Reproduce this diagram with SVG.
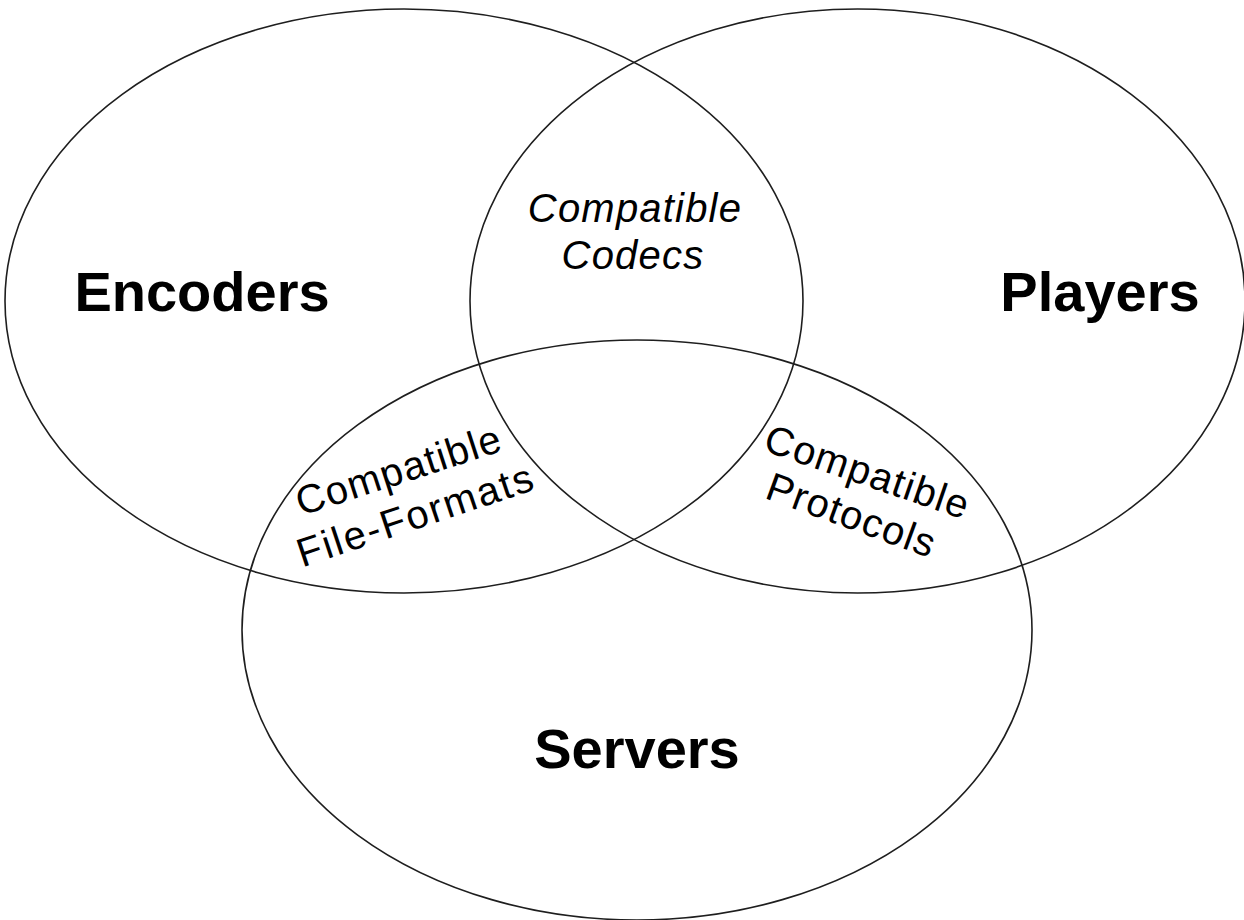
<svg xmlns="http://www.w3.org/2000/svg" width="1244" height="920" viewBox="0 0 1244 920">
<style>
.ring{fill:none;stroke:#1e1e1e;stroke-width:1.6}
.big{font-family:"Liberation Sans",Arial,sans-serif;font-weight:bold;font-size:56px;fill:#000;text-anchor:middle}
.small{font-family:"Liberation Sans",Arial,sans-serif;font-size:40px;fill:#000;text-anchor:middle;letter-spacing:1.2px}
.it{font-style:italic}
</style>
<rect width="1244" height="920" fill="#fff"/>
<g id="encoders">
<ellipse class="ring" cx="404" cy="301" rx="399" ry="292"/>
<text class="big" x="202" y="311">Encoders</text>
</g>
<g id="players">
<ellipse class="ring" cx="857.5" cy="301" rx="387.5" ry="292"/>
<text class="big" x="1100" y="311">Players</text>
</g>
<g id="servers">
<ellipse class="ring" cx="637" cy="630" rx="395" ry="290"/>
<text class="big" x="637" y="768">Servers</text>
</g>
<g id="codecs">
<text class="small it" x="635" y="222">Compatible</text>
<text class="small it" x="633" y="269">Codecs</text>
</g>
<g id="fileformats">
<text class="small" transform="translate(403,483) rotate(-18)" x="0" y="0">Compatible</text>
<text class="small" transform="translate(420,528) rotate(-18.5)" x="0" y="0" style="letter-spacing:2px">File-Formats</text>
</g>
<g id="protocols">
<text class="small" transform="translate(863,485) rotate(19)" x="0" y="0">Compatible</text>
<text class="small" transform="translate(847,528) rotate(20)" x="0" y="0">Protocols</text>
</g>
<g id="connectors"></g>
</svg>
